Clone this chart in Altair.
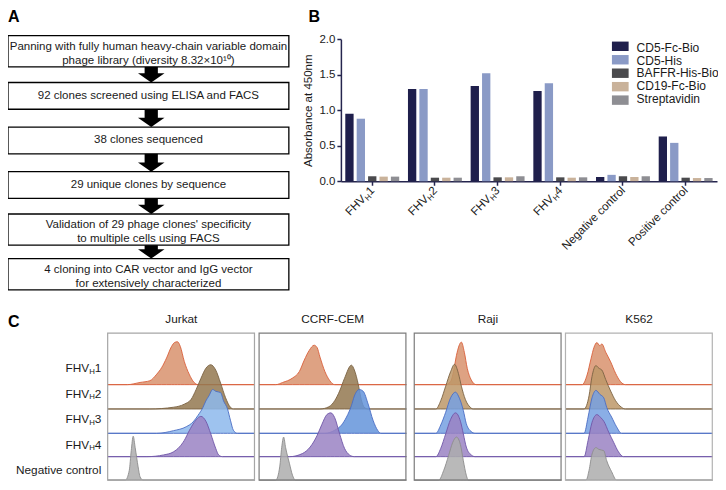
import altair as alt
import pandas as pd

# ---------------- data ----------------
STEPS = [
    "Panning with fully human heavy-chain variable domain\nphage library (diversity 8.32×10¹⁰)",
    "92 clones screened using ELISA and FACS",
    "38 clones sequenced",
    "29 unique clones by sequence",
    "Validation of 29 phage clones' specificity\nto multiple cells using FACS",
    "4 cloning into CAR vector and IgG vector\nfor extensively characterized",
]
STEP_LINES = [2, 1, 1, 1, 2, 2]

GROUPS = ["FHVH1", "FHVH2", "FHVH3", "FHVH4", "Negative control", "Positive control"]
FHV_DIGITS = ["1", "2", "3", "4"]
SERIES = ["CD5-Fc-Bio", "CD5-His", "BAFFR-His-Bio", "CD19-Fc-Bio", "Streptavidin"]
SERIES_COLORS = ["#1f1f4c", "#8a9ac6", "#4a4a4d", "#c9b29a", "#8e8e93"]
CD5_FC = [0.95, 1.30, 1.34, 1.27, 0.06, 0.63]
CD5_HIS = [0.88, 1.30, 1.52, 1.38, 0.09, 0.54]
BAFFR = [0.07, 0.05, 0.055, 0.055, 0.07, 0.05]
CD19 = [0.065, 0.05, 0.055, 0.05, 0.06, 0.045]
STREP = [0.065, 0.05, 0.07, 0.055, 0.07, 0.045]

CELL_LINES = ["Jurkat", "CCRF-CEM", "Raji", "K562"]
ROW_DIGITS = ["1", "2", "3", "4"]

# histogram traces (intensity channel, % of modal count)
JK1_X = [20, 33, 43, 50, 55, 60, 65, 68, 71, 74, 78, 83, 88, 92]
JK1_H = [0, 5, 9, 24, 39, 61, 87, 96, 98, 87, 53, 24, 5, 0]
JK2_X = [43, 67, 78, 85, 90, 95, 100, 105, 110, 115, 120, 125, 128]
JK2_H = [0, 4, 11, 22, 44, 70, 93, 101, 89, 59, 26, 4, 0]
JK3_X = [50, 67, 80, 87, 92, 97, 100, 103, 107, 110, 115, 118, 122, 125, 128, 132]
JK3_H = [0, 6, 15, 26, 41, 59, 74, 85, 100, 96, 93, 74, 56, 30, 7, 0]
JK4_X = [40, 57, 67, 73, 78, 83, 88, 95, 100, 105, 110, 113, 117]
JK4_H = [0, 4, 11, 22, 37, 59, 78, 92, 81, 52, 19, 4, 0]
JK5_X = [18, 22, 24, 26, 28, 31, 33, 36]
JK5_H = [0, 22, 67, 100, 74, 30, 7, 0]

CC1_X = [17, 24, 34, 41, 46, 51, 56, 59, 62, 67, 72, 77]
CC1_H = [0, 5, 15, 30, 56, 78, 90, 85, 63, 30, 9, 0]
CC2_X = [62, 71, 77, 82, 87, 94, 97, 101, 104, 107, 111]
CC2_H = [0, 5, 19, 41, 70, 100, 89, 56, 22, 4, 0]
CC3_X = [67, 77, 84, 89, 94, 97, 102, 106, 111, 116, 121, 124]
CC3_H = [0, 7, 19, 37, 63, 85, 100, 96, 67, 30, 6, 0]
CC4_X = [31, 44, 52, 59, 64, 69, 73, 77, 82, 87, 92, 97]
CC4_H = [0, 7, 22, 48, 74, 96, 100, 89, 52, 19, 4, 0]
CC5_X = [17, 21, 23, 25, 27, 31, 34, 37]
CC5_H = [0, 30, 74, 98, 74, 37, 11, 0]

RJ1_X = [32, 37, 40, 43, 48, 51, 54, 58, 63]
RJ1_H = [0, 7, 30, 67, 97, 74, 37, 11, 0]
RJ2_X = [22, 27, 32, 37, 41, 45, 48, 52, 57, 60]
RJ2_H = [0, 19, 52, 85, 102, 81, 52, 22, 4, 0]
RJ3_X = [22, 27, 32, 37, 42, 45, 50, 53, 58, 62]
RJ3_H = [0, 19, 48, 81, 94, 85, 52, 22, 4, 0]
RJ4_X = [22, 27, 32, 37, 42, 47, 50, 53, 58, 62]
RJ4_H = [0, 19, 52, 85, 100, 81, 52, 22, 4, 0]
RJ5_X = [25, 30, 35, 39, 43, 47, 50, 53, 55]
RJ5_H = [0, 22, 56, 85, 98, 81, 44, 11, 0]

KC1_X = [17, 22, 26, 29, 32, 35, 37, 41, 46, 51, 56, 61]
KC1_H = [0, 22, 59, 85, 96, 89, 93, 74, 52, 26, 7, 0]
KC2_X = [19, 24, 27, 31, 34, 37, 41, 46, 51, 57, 61]
KC2_H = [0, 30, 74, 99, 93, 89, 67, 41, 19, 4, 0]
KC3_X = [19, 23, 27, 31, 35, 39, 42, 47, 52, 57]
KC3_H = [0, 37, 81, 98, 89, 81, 59, 37, 15, 0]
KC4_X = [19, 23, 27, 32, 36, 39, 44, 49, 54, 59]
KC4_H = [0, 37, 78, 96, 89, 81, 56, 33, 11, 0]
KC5_X = [21, 24, 27, 31, 34, 39, 42, 47, 52]
KC5_H = [0, 22, 59, 74, 70, 67, 44, 19, 0]

CURVES = {
    "Jurkat": [(JK1_X, JK1_H), (JK2_X, JK2_H), (JK3_X, JK3_H), (JK4_X, JK4_H), (JK5_X, JK5_H)],
    "CCRF-CEM": [(CC1_X, CC1_H), (CC2_X, CC2_H), (CC3_X, CC3_H), (CC4_X, CC4_H), (CC5_X, CC5_H)],
    "Raji": [(RJ1_X, RJ1_H), (RJ2_X, RJ2_H), (RJ3_X, RJ3_H), (RJ4_X, RJ4_H), (RJ5_X, RJ5_H)],
    "K562": [(KC1_X, KC1_H), (KC2_X, KC2_H), (KC3_X, KC3_H), (KC4_X, KC4_H), (KC5_X, KC5_H)],
}

# ---------------- layout helpers ----------------
W, H = 710, 474
SX, SY = 709 / 722, 473 / 486


def fx(v):
    return (v - 3) * SX


def fy(v):
    return (v - 3) * SY


FONT = "Liberation Sans, Arial, Helvetica, sans-serif"
TXT = "#1a1a1a"
layers = []


def letter(ch, x, y):
    return alt.Chart(pd.DataFrame({"t": [ch]})).mark_text(
        text=ch, font=FONT, fontSize=16, fontWeight="bold", align="left", baseline="top", color="black"
    ).encode(x=alt.value(fx(x)), y=alt.value(fy(y)))


# ---------------- Panel A : flowchart ----------------
fa_x = alt.Scale(domain=[0, 1], range=[fx(3), fx(289)])
fa_y = alt.Scale(domain=[0, 5], range=[fy(47.5), fy(276.5)])
half = {1: 0.30, 2: 0.35}
text_shift = {1: 0.0, 2: -0.1}
steps_df = pd.DataFrame({"idx": list(range(len(STEPS))), "label": STEPS, "lines": STEP_LINES})
steps_df["top"] = steps_df["idx"] - steps_df["lines"].map(half)
steps_df["bot"] = steps_df["idx"] + steps_df["lines"].map(half)
steps_df["ty"] = steps_df["idx"] + steps_df["lines"].map(text_shift)
HEAD_U = 9.5 / 45.8
arrows_df = pd.DataFrame({"start": steps_df["bot"].values[:-1], "tip": steps_df["top"].values[1:]})
arrows_df["neck"] = arrows_df["tip"] - HEAD_U + 0.02

layers.append(letter("A", 3, 4))
layers.append(
    alt.Chart(steps_df).mark_rect(fill="white", stroke="black", strokeWidth=1.3).encode(
        x=alt.XDatum(0, scale=fa_x, axis=None, type="quantitative"),
        x2=alt.X2Datum(1),
        y=alt.Y("top:Q", scale=fa_y, axis=None),
        y2="bot:Q",
    )
)
layers.append(
    alt.Chart(steps_df).mark_text(
        font=FONT, fontSize=11.5, lineBreak="\n", lineHeight=13.8, baseline="middle", align="center", color=TXT
    ).encode(
        x=alt.XDatum(0.5, scale=fa_x, axis=None, type="quantitative"),
        y=alt.Y("ty:Q", scale=fa_y, axis=None),
        text="label:N",
    )
)
layers.append(
    alt.Chart(arrows_df).mark_rule(color="black", strokeWidth=13.5 * SX, strokeCap="butt").encode(
        x=alt.XDatum(0.51, scale=fa_x, axis=None, type="quantitative"),
        y=alt.Y("start:Q", scale=fa_y, axis=None),
        y2="neck:Q",
    )
)
layers.append(
    alt.Chart(arrows_df).mark_point(
        shape="M-1,-0.7L1,-0.7L0,0Z", size=(27 * SX) ** 2, filled=True, color="black", opacity=1, strokeWidth=0
    ).encode(
        x=alt.XDatum(0.51, scale=fa_x, axis=None, type="quantitative"),
        y=alt.Y("tip:Q", scale=fa_y, axis=None),
    )
)

# ---------------- Panel B : ELISA bars ----------------
rows = []
for s, vals in zip(SERIES, [CD5_FC, CD5_HIS, BAFFR, CD19, STREP]):
    for g, v in zip(GROUPS, vals):
        rows.append({"group": g, "series": s, "value": v})
bars_df = pd.DataFrame(rows)

AXC = "#25254e"
bx = alt.Scale(domain=GROUPS, range=[fx(342), fx(725)], paddingInner=0.14, paddingOuter=0.07)
by = alt.Scale(domain=[0, 2], range=[fy(181), fy(35)])
cscale = alt.Scale(domain=SERIES, range=SERIES_COLORS)

layers.append(letter("B", 309, 4))
layers.append(
    alt.Chart(bars_df).mark_bar().encode(
        x=alt.X(
            "group:N", scale=bx, sort=GROUPS,
            axis=alt.Axis(orient="bottom", offset=fy(181) - H, labels=False, title=None, grid=False,
                          tickSize=4, tickWidth=1.5, tickColor=AXC, domainColor=AXC, domainWidth=1.5),
        ),
        xOffset=alt.XOffset("series:N", sort=SERIES, scale=alt.Scale(domain=SERIES, paddingInner=0.27, paddingOuter=0)),
        y=alt.Y(
            "value:Q", scale=by,
            axis=alt.Axis(orient="left", offset=-fx(342), values=[0, 0.5, 1, 1.5, 2], format=".1f", grid=False,
                          tickSize=4, tickWidth=1.5, tickColor=AXC, domainColor=AXC, domainWidth=1.5,
                          labelFont=FONT, labelFontSize=11.5, labelColor=TXT, labelPadding=2,
                          title="Absorbance at 450nm", titleFont=FONT, titleFontSize=11.5, titleFontWeight="normal",
                          titleColor=TXT, titlePadding=5),
        ),
        color=alt.Color("series:N", scale=cscale, legend=None),
    )
)

fhv_df = pd.DataFrame({"group": GROUPS[:4], "digit": FHV_DIGITS})
ctrl_df = pd.DataFrame({"group": GROUPS[4:]})
BDX, BDY, BFS = -5, 6, 11.6


def blabel(df, dx, dy, fs, text=None, field=None):
    kw = dict(angle=315, align="right", baseline="middle", dx=dx, dy=dy, font=FONT, fontSize=fs, color=TXT)
    if text is not None:
        kw["text"] = text
    enc = dict(
        x=alt.X("group:N", scale=bx, sort=GROUPS, axis=None),
        y=alt.YDatum(0, scale=by, axis=None, type="quantitative"),
    )
    if field is not None:
        enc["text"] = field
    return alt.Chart(df).mark_text(**kw).encode(**enc)


layers.append(blabel(fhv_df, BDX, BDY, BFS, field="digit:N"))
layers.append(blabel(fhv_df, BDX - 6.5, BDY + 3, 7.8, text="H"))
layers.append(blabel(fhv_df, BDX - 12.2, BDY, BFS, text="FHV"))
layers.append(blabel(ctrl_df, BDX, BDY, BFS, field="group:N"))

leg_df = pd.DataFrame({"series": SERIES})
ly = alt.Scale(domain=SERIES, range=[fy(37.5), fy(102.5)], paddingInner=0.3, paddingOuter=0)
lx = alt.Scale(domain=[0, 1], range=[fx(618), fx(635)])
layers.append(
    alt.Chart(leg_df).mark_rect().encode(
        x=alt.XDatum(0, scale=lx, axis=None, type="quantitative"),
        x2=alt.X2Datum(1),
        y=alt.Y("series:N", scale=ly, sort=SERIES, axis=None),
        color=alt.Color("series:N", scale=cscale, legend=None),
    )
)
layers.append(
    alt.Chart(leg_df).mark_text(align="left", baseline="middle", dx=8, font=FONT, fontSize=12, color=TXT).encode(
        x=alt.XDatum(1, scale=lx, axis=None, type="quantitative"),
        y=alt.Y("series:N", scale=ly, sort=SERIES, axis=None),
        text="series:N",
    )
)

# ---------------- Panel C : flow histograms ----------------
layers.append(letter("C", 3, 317))
C_LEFT = {"Jurkat": 104.5, "CCRF-CEM": 258.7, "Raji": 416.7, "K562": 570.7}
FRAME = {"Jurkat": "#a6a6a6", "CCRF-CEM": "#7c7c7c", "Raji": "#7c7c7c", "K562": "#b2b2b2"}
FILL = {
    "Jurkat": ["#d8926d", "#937850", "#8db8ec", "#9a82c3", "#adadad"],
    "CCRF-CEM": ["#d8926d", "#937850", "#6494db", "#9a82c3", "#adadad"],
    "Raji": ["#d8926d", "#bd9869", "#76a0e2", "#9a82c3", "#adadad"],
    "K562": ["#d8926d", "#bd9869", "#76a0e2", "#9a82c3", "#adadad"],
}
STROKE = ["#d9603b", "#7b6243", "#4b6dc4", "#6f56a8", "#8c8c8c"]
BASE = [98, 73, 48, 24, 0]
c_y = alt.Scale(domain=[0, 151], range=[fy(488), fy(337)])

for name in CELL_LINES:
    left = C_LEFT[name]
    xs = alt.Scale(domain=[0, 150], range=[fx(left), fx(left + 150)])
    for r, (X, Hh) in enumerate(CURVES[name]):
        df = pd.DataFrame({"x": [0] + X + [150], "h": [0] + Hh + [0]})
        df["base"] = BASE[r]
        df["top"] = BASE[r] + df["h"] * 0.45
        layers.append(
            alt.Chart(df).mark_area(
                interpolate="monotone", fill=FILL[name][r], fillOpacity=0.85, stroke=STROKE[r], strokeWidth=0.9
            ).encode(
                x=alt.X("x:Q", scale=xs, axis=None),
                y=alt.Y("top:Q", scale=c_y, axis=None),
                y2="base:Q",
            )
        )
    frame_df = pd.DataFrame({"cell": [name]})
    layers.append(
        alt.Chart(frame_df).mark_rect(fillOpacity=0, stroke=FRAME[name], strokeWidth=1.2).encode(
            x=alt.XDatum(0, scale=xs, axis=None, type="quantitative"),
            x2=alt.X2Datum(149.5),
            y=alt.YDatum(0, scale=c_y, axis=None, type="quantitative"),
            y2=alt.Y2Datum(151),
        )
    )
    layers.append(
        alt.Chart(frame_df).mark_text(font=FONT, fontSize=11.8, baseline="middle", align="center", color=TXT).encode(
            x=alt.XDatum(75, scale=xs, axis=None, type="quantitative"),
            y=alt.value(fy(323)),
            text="cell:N",
        )
    )

rl_y = alt.Scale(domain=[0, 4], range=[fy(373), fy(478)])
row_df = pd.DataFrame({"idx": [0, 1, 2, 3], "digit": ROW_DIGITS})
neg_df = pd.DataFrame({"idx": [4], "label": ["Negative control"]})


def rlabel(df, dx, dy, fs, text=None, field=None):
    kw = dict(align="right", baseline="middle", dx=dx, dy=dy, font=FONT, fontSize=fs, color=TXT)
    if text is not None:
        kw["text"] = text
    enc = dict(x=alt.value(fx(98)), y=alt.Y("idx:Q", scale=rl_y, axis=None))
    if field is not None:
        enc["text"] = field
    return alt.Chart(df).mark_text(**kw).encode(**enc)


layers.append(rlabel(row_df, 0, 0, 11.8, field="digit:N"))
layers.append(rlabel(row_df, -6.5, 3.5, 7.8, text="H"))
layers.append(rlabel(row_df, -12.2, 0, 11.8, text="FHV"))
layers.append(rlabel(neg_df, 0, 0, 11.8, field="label:N"))

chart = (
    alt.layer(*layers)
    .resolve_scale(x="independent", y="independent")
    .properties(width=W, height=H, autosize=alt.AutoSizeParams(type="none"), padding=0)
    .configure_view(stroke="transparent")
)

chart.save("out.html", embed_options={"renderer": "svg", "actions": False})
